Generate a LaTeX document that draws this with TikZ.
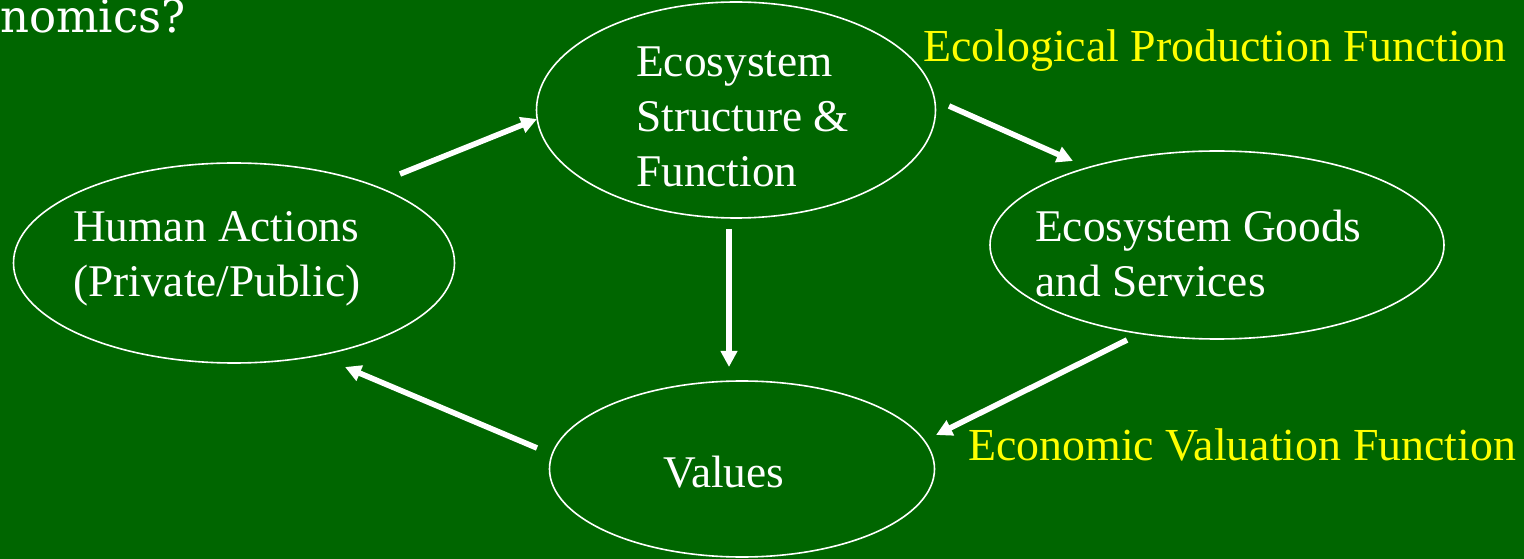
\documentclass[tikz,border=0pt]{standalone}
\usepackage{fontspec}
\setmainfont{Liberation Serif}
\newfontfamily\headingfont{DejaVu Serif}
\usetikzlibrary{shapes.geometric,arrows.meta}
\definecolor{slidegreen}{RGB}{0,102,0}
\definecolor{labelyellow}{RGB}{255,255,0}
\begin{document}
\begin{tikzpicture}[x=0.75pt,y=-0.75pt,
  bubble/.style={ellipse,draw=white,line width=1.2pt,inner sep=0pt},
  bodytext/.style={text=white,inner sep=0pt,align=left,font=\fontsize{34}{41.25}\selectfont},
  fnlabel/.style={text=labelyellow,inner sep=0pt,font=\fontsize{34.4}{41.25}\selectfont},
  flow/.style={draw=white,line width=4.2pt,-{Triangle[length=12pt,width=12pt]}}]
  % backdrop
  \fill[slidegreen] (0,0) rectangle (1524,559);
  \useasboundingbox (0,0) rectangle (1524,559);

  % title fragment
  \node[text=white,inner sep=0pt,anchor=base east,font=\headingfont\fontsize{33.75}{40}\selectfont] (title) at (186,33) {nomics?};

  % the four stages
  \node[bubble,minimum width=330.75pt,minimum height=150pt] (human) at (234,263) {};
  \node[bubble,minimum width=299.25pt,minimum height=162pt] (eco) at (736,110) {};
  \node[bubble,minimum width=340.5pt,minimum height=141pt] (goods) at (1217,245) {};
  \node[bubble,minimum width=288.75pt,minimum height=132pt] (values) at (742,469) {};

  \node[bodytext,anchor=west] (humantext) at (73,259) {Human Actions\\(Private/Public)};
  \node[bodytext,anchor=west] (ecotext) at (636,117) {Ecosystem\\Structure \&\\Function};
  \node[bodytext,anchor=west] (goodstext) at (1035,253) {Ecosystem Goods\\and Services};
  \node[bodytext,anchor=base west] (valuestext) at (663,487) {Values};

  % function labels
  \node[fnlabel,anchor=base west] (eplabel) at (923,62) {Ecological Production Function};
  \node[fnlabel,anchor=base west] (evlabel) at (968,460) {Economic Valuation Function};

  % arrow end points
  \coordinate (a1s) at (400,174);
  \coordinate (a1e) at (537,119);
  \coordinate (a2s) at (949,106);
  \coordinate (a2e) at (1073,161);
  \coordinate (a3s) at (1127,340);
  \coordinate (a3e) at (936,435);
  \coordinate (a4s) at (537,448);
  \coordinate (a4e) at (345,367);
  \coordinate (a5s) at (729,229);
  \coordinate (a5e) at (729,367);

  \draw[flow] (a1s) -- (a1e);
  \draw[flow] (a2s) -- (a2e);
  \draw[flow] (a3s) -- (a3e);
  \draw[flow] (a4s) -- (a4e);
  \draw[flow] (a5s) -- (a5e);
\end{tikzpicture}
\end{document}
